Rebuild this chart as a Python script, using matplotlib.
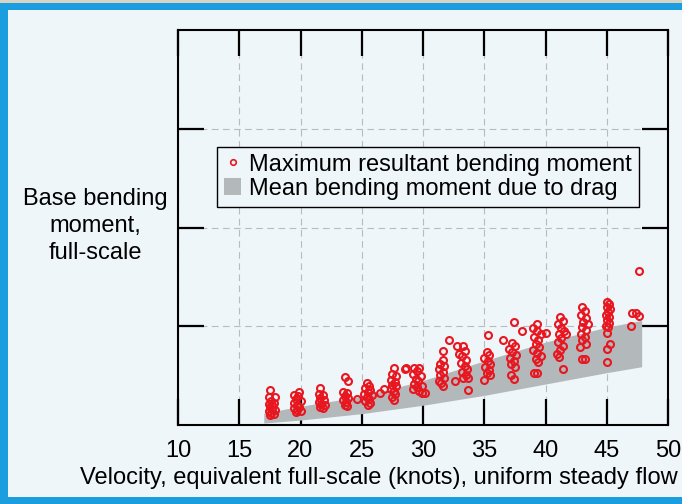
import numpy as np
import matplotlib.pyplot as plt
from matplotlib.patches import Rectangle
from matplotlib.lines import Line2D
from matplotlib.patches import Patch

plt.rcParams['font.family'] = ['Liberation Sans', 'DejaVu Sans']

#mean bending moment band (drag only)
band_v = [17, 20, 25, 30, 35, 40, 45, 47.85]
band_lo = [0.02, 0.05, 0.115, 0.20, 0.30, 0.415, 0.53, 0.59]
band_hi = [0.12, 0.19, 0.29, 0.45, 0.65, 0.84, 0.99, 1.06]

#maximum resultant bending moment, measured points
vel = [
    17.5, 17.4, 17.9, 17.6, 17.4, 17.8, 17.5, 17.7, 17.4, 17.9, 17.6, 17.8, 17.5, 17.7,
    19.9, 19.5, 19.8, 19.6, 20.0, 19.5, 19.7, 19.9, 19.5, 19.7, 20.0, 19.6,
    21.6, 21.5, 21.8, 21.6, 21.9, 21.5, 21.7, 22.0, 21.6, 21.8,
    23.6, 23.9, 23.5, 23.8, 23.6, 23.9, 23.5, 23.7, 23.6, 23.8, 24.6,
    25.4, 25.6, 25.3, 25.7, 25.5, 25.2, 25.8, 25.4, 25.6, 25.3, 25.7, 25.5, 26.5, 26.8,
    27.6, 28.6, 27.5, 27.8, 27.4, 27.7, 27.5, 27.8, 27.4, 27.6, 27.7, 27.5, 27.6,
    28.5, 29.3, 29.7, 29.5, 29.2, 29.8, 29.4, 29.6, 29.3, 29.9, 29.5, 29.2, 29.7, 29.9, 30.2,
    31.6, 32.1, 31.6, 31.4, 31.7, 31.3, 31.6, 31.4, 31.7, 31.3, 31.5, 31.6, 32.6,
    32.75, 33.3, 33.4, 33.2, 33.5, 33.1, 33.4, 33.6, 33.2, 33.5, 33.3, 33.7, 33.7, 32.9,
    35.3, 36.5, 35.2, 35.4, 35.0, 35.3, 35.5, 35.1, 35.4, 35.2, 35.0, 35.5,
    37.4, 38.1, 37.3, 37.5, 37.0, 37.3, 37.6, 37.1, 37.4, 37.2, 37.5, 37.2, 37.4,
    39.3, 40.0, 39.0, 39.3, 39.6, 39.1, 39.4, 39.2, 39.5, 39.0, 39.3, 39.6, 39.2, 39.4, 39.1, 39.3,
    41.2, 41.4, 41.0, 41.3, 41.5, 41.1, 41.3, 41.0, 41.4, 41.2, 40.9, 41.1, 41.4, 41.7,
    43.0, 43.2, 42.9, 43.3, 43.1, 43.5, 43.0, 43.3, 42.9, 43.2, 43.0, 43.3, 42.8, 43.0, 43.2,
    45.0, 45.2, 45.0, 45.3, 45.1, 44.9, 45.2, 45.0, 45.2, 44.9, 45.1, 45.0, 45.3, 45.0, 45.0,
    47.1, 47.4, 47.6, 47.0, 47.6,
]
moment = [
    0.35, 0.28, 0.28, 0.24, 0.21, 0.22, 0.18, 0.16, 0.14, 0.15, 0.12, 0.11, 0.10, 0.20,
    0.33, 0.30, 0.29, 0.26, 0.24, 0.22, 0.20, 0.18, 0.17, 0.15, 0.14, 0.13,
    0.37, 0.31, 0.30, 0.27, 0.25, 0.23, 0.21, 0.20, 0.18, 0.17,
    0.49, 0.45, 0.33, 0.32, 0.29, 0.27, 0.25, 0.23, 0.20, 0.19, 0.26,
    0.43, 0.40, 0.37, 0.35, 0.33, 0.31, 0.30, 0.28, 0.26, 0.24, 0.22, 0.20, 0.32, 0.36,
    0.58, 0.58, 0.52, 0.50, 0.46, 0.44, 0.41, 0.39, 0.36, 0.34, 0.31, 0.28, 0.25,
    0.57, 0.58, 0.58, 0.55, 0.52, 0.50, 0.47, 0.45, 0.42, 0.40, 0.38, 0.36, 0.34, 0.32, 0.32,
    0.75, 0.86, 0.66, 0.62, 0.60, 0.57, 0.54, 0.51, 0.48, 0.45, 0.43, 0.40, 0.45,
    0.80, 0.80, 0.75, 0.70, 0.66, 0.63, 0.60, 0.57, 0.54, 0.51, 0.48, 0.48, 0.35, 0.72,
    0.91, 0.86, 0.74, 0.71, 0.68, 0.65, 0.62, 0.59, 0.56, 0.53, 0.46, 0.51,
    1.04, 0.95, 0.83, 0.80, 0.77, 0.74, 0.71, 0.68, 0.65, 0.62, 0.59, 0.51, 0.47,
    1.02, 0.93, 0.98, 0.95, 0.92, 0.89, 0.86, 0.82, 0.79, 0.76, 0.73, 0.70, 0.67, 0.64, 0.53, 0.53,
    1.09, 1.05, 1.02, 0.98, 0.95, 0.92, 0.88, 0.84, 0.80, 0.76, 0.72, 0.69, 0.57, 0.92,
    1.19, 1.15, 1.11, 1.08, 1.04, 1.02, 0.99, 0.96, 0.92, 0.89, 0.86, 0.82, 0.79, 0.67, 0.67,
    1.25, 1.23, 1.19, 1.17, 1.14, 1.11, 1.09, 1.06, 1.03, 1.00, 0.99, 0.93, 0.82, 0.77, 0.64,
    1.13, 1.13, 1.10, 1.00, 1.56,
]

x_ticks = [10, 15, 20, 25, 30, 35, 40, 45, 50]
y_ticks = [1, 2, 3]

BG = '#eef6fa'
BLUE = '#1a9ee0'
RED = '#e8161f'
GRAY = '#b3b8bb'
FS = 17

fig = plt.figure(figsize=(6.82, 5.04), dpi=100, facecolor=BG)

#blue frame round the figure
fig.patches.append(Rectangle((0, 1 - 3/504), 1, 3/504, transform=fig.transFigure,
                             facecolor='#d8d4c4', edgecolor='none', zorder=0))
fig.patches.append(Rectangle((0, 1 - 10/504), 1, 7/504, transform=fig.transFigure,
                             facecolor=BLUE, edgecolor='none', zorder=0))
fig.patches.append(Rectangle((0, 0), 8/682, 1 - 3/504, transform=fig.transFigure,
                             facecolor=BLUE, edgecolor='none', zorder=0))
fig.patches.append(Rectangle((0, 0), 1, 7/504, transform=fig.transFigure,
                             facecolor=BLUE, edgecolor='none', zorder=0))

ax = fig.add_axes([178/682, 79/504, 490/682, 395/504])
ax.set_facecolor(BG)

ax.fill_between(band_v, band_lo, band_hi, color=GRAY, linewidth=0, zorder=2)
ax.plot(vel, moment, 'o', markersize=5, markerfacecolor='none',
        markeredgecolor=RED, markeredgewidth=1.5, zorder=3)

ax.set_xlim(10, 50)
ax.set_ylim(0, 4)
ax.set_xticks(x_ticks)
ax.set_yticks(y_ticks)
ax.set_yticklabels([])
ax.grid(True, color='#b8bcbf', linestyle=(0, (6, 4)), linewidth=0.8, zorder=1)
ax.set_axisbelow(True)

ax.tick_params(axis='both', direction='in', length=19, width=1.6, color='black',
               top=True, right=True, labelsize=FS, pad=11)
for s in ax.spines.values():
    s.set_linewidth(1.5)

# axis titles placed by hand: x title runs flush right, y title sits level
fig.text(678/682, 1 - 478/504, 'Velocity, equivalent full-scale (knots), uniform steady flow',
         ha='right', va='center', fontsize=FS)
fig.text(95/682, 1 - 226/504, 'Base bending\nmoment,\nfull-scale', ha='center',
         va='center', fontsize=FS, linespacing=1.3)

handles = [
    Line2D([], [], marker='o', linestyle='none', markersize=4, markerfacecolor='none',
           markeredgecolor=RED, markeredgewidth=1.2),
    Patch(facecolor=GRAY, edgecolor='none'),
]
leg = ax.legend(handles, ['Maximum resultant bending moment', 'Mean bending moment due to drag'],
                loc='upper left', bbox_to_anchor=(0.08, 0.705), fontsize=FS,
                frameon=True, fancybox=False, edgecolor='black', facecolor=BG,
                framealpha=1, borderpad=0.3, handlelength=0.7, handletextpad=0.35,
                labelspacing=0.1, borderaxespad=0)
leg.get_frame().set_linewidth(1.0)

fig.savefig('out.png', dpi=100, facecolor=BG)
